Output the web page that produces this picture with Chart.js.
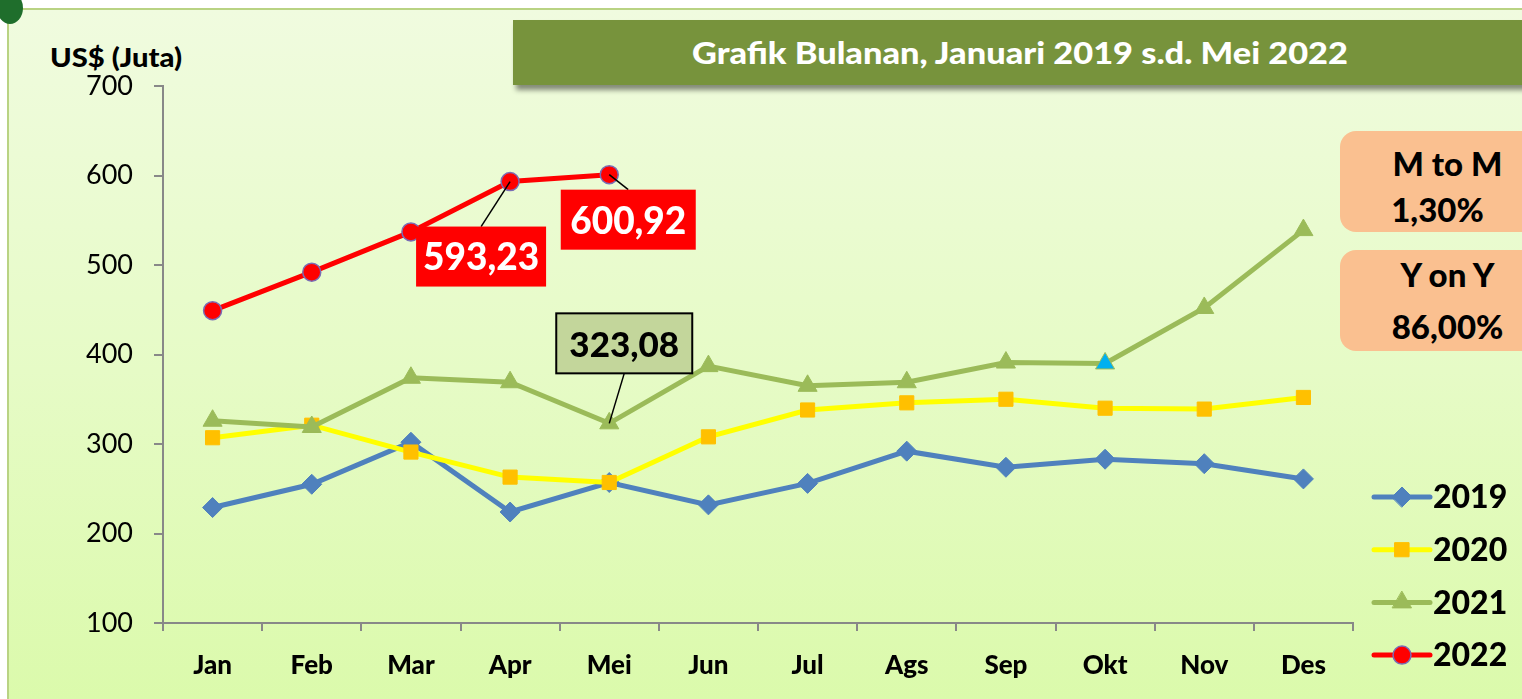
<!DOCTYPE html>
<html><head><meta charset="utf-8">
<script src="https://cdn.jsdelivr.net/npm/chart.js@4.4.0/dist/chart.umd.min.js"></script>
<style>
html,body{margin:0;padding:0;width:1522px;height:699px;overflow:hidden;background:#fff;font-family:Lato,"Open Sans",sans-serif}
#frame{position:absolute;left:7px;top:8px;width:1540px;height:720px;border:2px solid #b9d383;background:linear-gradient(to bottom,#f0fbdf 0%,#e6fbc6 50%,#dafaa9 100%);}
#corner{position:absolute;left:-12px;top:-18px;width:26px;height:32px;background:#1f6e2c;border-radius:50%;}
#banner{position:absolute;left:513px;top:20px;width:1040px;height:65px;background:#77933c;box-shadow:3px 5px 5px rgba(0,0,0,.45);}
#title{position:absolute;top:34px;left:0;white-space:nowrap;color:#fff;font-weight:900;font-size:30px;line-height:36px;transform-origin:0 0;}
#ylab{position:absolute;left:50px;top:40px;font-weight:900;font-size:27px;color:#000;white-space:nowrap;transform-origin:0 0;}
.box{position:absolute;left:1340px;width:215px;height:101px;background:#fac090;border-radius:16px;text-align:center;font-weight:900;font-size:33px;color:#000;}
.box div{position:absolute;left:0;width:100%;white-space:nowrap;}
#wrap{position:absolute;left:0;top:0;width:1522px;height:699px;}
</style></head>
<body>
<div id="frame"><div id="corner"></div></div>
<div id="banner"></div>
<div id="title">Grafik Bulanan, Januari 2019 s.d. Mei 2022</div>
<div id="ylab">US$ (Juta)</div>
<div class="box" style="top:131px"><div style="top:12px">M to M</div><div id="mtm" style="top:58px;left:-10px"></div></div>
<div class="box" style="top:250px"><div style="top:4px">Y on Y</div><div id="yoy" style="top:56px"></div></div>
<div id="wrap"><canvas id="c"></canvas></div>
<script>
const months = ['Jan','Feb','Mar','Apr','Mei','Jun','Jul','Ags','Sep','Okt','Nov','Des'];
const seriesNames = ['2019','2020','2021','2022'];
const v2019 = [229,255,302,224,257,232,256,292,274,283,278,261];
const v2020 = [307,321,291,263,257,308,338,346,350,340,339,352];
const v2021 = [326,319,374,369,323.08,387,365,369,391,390,452,539];
const v2022 = [449,492,537,593.23,600.92];
const yTicks = [100,200,300,400,500,600,700];

const fmt = v => v.toFixed(2).replace('.', ',');
const last = v2022[v2022.length-1], prev = v2022[v2022.length-2], lastYearSame = v2021[v2022.length-1];
document.getElementById('mtm').textContent = fmt((last/prev-1)*100) + '%';
document.getElementById('yoy').textContent = fmt((last/lastYearSame-1)*100) + '%';

function fitText(id, left, w){
  const el = document.getElementById(id);
  const cw = el.getBoundingClientRect().width;
  el.style.left = left + 'px';
  el.style.transform = 'scaleX(' + (w/cw) + ')';
}

const highlightIdx = 9;
const annotations = [
  {ds:3, idx:3, dx:-29, dy:75, w:130, h:60, fill:'#ff0000', color:'#ffffff', border:null, font:'900 37px Lato'},
  {ds:3, idx:4, dx:19, dy:45, w:135, h:60, fill:'#ff0000', color:'#ffffff', border:null, font:'900 37px Lato'},
  {ds:2, idx:4, dx:15, dy:-80, w:136, h:60, fill:'#c3d69b', color:'#000000', border:'#000000', font:'900 35px Lato'}
];

const annoPlugin = {
  id:'anno',
  afterDatasetsDraw(chart){
    const ctx = chart.ctx;
    annotations.forEach(a=>{
      const el = chart.getDatasetMeta(a.ds).data[a.idx];
      const val = chart.data.datasets[a.ds].data[a.idx];
      const px = el.x, py = el.y;
      const cx = px + a.dx, cy = py + a.dy;
      const ey = a.dy > 0 ? cy - a.h/2 : cy + a.h/2;
      ctx.save();
      ctx.strokeStyle = '#000'; ctx.lineWidth = 1.5;
      ctx.beginPath(); ctx.moveTo(px,py); ctx.lineTo(cx, ey); ctx.stroke();
      ctx.fillStyle = a.fill;
      ctx.fillRect(cx-a.w/2, cy-a.h/2, a.w, a.h);
      if (a.border){ ctx.strokeStyle=a.border; ctx.lineWidth=2; ctx.strokeRect(cx-a.w/2, cy-a.h/2, a.w, a.h); }
      ctx.fillStyle = a.color; ctx.font = a.font; ctx.textAlign='center'; ctx.textBaseline='middle';
      ctx.fillText(fmt(val), cx, cy+2);
      ctx.restore();
    });
  }
};

const legendPlugin = {
  id:'customLegend',
  afterDraw(chart){
    const ctx = chart.ctx;
    const x0 = 1374, x1 = 1430, y0 = 497, dy = 52.7;
    chart.data.datasets.forEach((d,i)=>{
      const y = y0 + i*dy;
      ctx.save();
      ctx.strokeStyle = d.borderColor; ctx.lineWidth = 5; ctx.lineCap='round';
      ctx.beginPath(); ctx.moveTo(x0,y); ctx.lineTo(x1,y); ctx.stroke();
      ctx.fillStyle = d.legendFill; ctx.strokeStyle = d.legendStroke; ctx.lineWidth = d.pointBorderWidth;
      Chart.helpers.drawPoint(ctx, {pointStyle:d.pointStyle, radius:d.pointRadius, rotation:0, borderWidth:d.pointBorderWidth}, (x0+x1)/2, y);
      ctx.fillStyle='#000'; ctx.font='900 32px Lato'; ctx.textAlign='left'; ctx.textBaseline='middle';
      ctx.fillText(seriesNames[i], x1+3, y+1);
      ctx.restore();
    });
  }
};

function start(){
fitText('title', 692, 656);
fitText('ylab', 50, 132);
new Chart(document.getElementById('c'), {
  type:'line',
  data:{
    labels: months,
    datasets:[
      {label:seriesNames[0], data:v2019, order:3, borderColor:'#4f81bd', borderWidth:5, tension:0,
       pointStyle:'rectRot', pointRadius:10, pointBackgroundColor:'#4f81bd', pointBorderColor:'#4f81bd', pointBorderWidth:1,
       legendFill:'#4f81bd', legendStroke:'#4f81bd'},
      {label:seriesNames[1], data:v2020, order:2, borderColor:'#ffff00', borderWidth:5, tension:0,
       pointStyle:'rect', pointRadius:10, pointBackgroundColor:'#ffc000', pointBorderColor:'#ffc000', pointBorderWidth:1,
       legendFill:'#ffc000', legendStroke:'#ffc000'},
      {label:seriesNames[2], data:v2021, order:1, borderColor:'#9bbb59', borderWidth:5, tension:0,
       pointStyle:'triangle', pointRadius:11,
       pointBackgroundColor: c => c.dataIndex===highlightIdx ? '#00b0f0' : '#9bbb59',
       pointBorderColor:'#9bbb59', pointBorderWidth:1,
       legendFill:'#9bbb59', legendStroke:'#9bbb59'},
      {label:seriesNames[3], data:v2022, order:0, borderColor:'#ff0000', borderWidth:5, tension:0,
       pointStyle:'circle', pointRadius:9, pointBackgroundColor:'#ff0000', pointBorderColor:'#7a6db5', pointBorderWidth:1.5,
       legendFill:'#ff0000', legendStroke:'#7a6db5'}
    ]
  },
  options:{
    responsive:true, maintainAspectRatio:false, animation:false,
    layout:{padding:{left:0, top:86, right:169, bottom:0}},
    plugins:{legend:{display:false}, tooltip:{enabled:false}},
    scales:{
      x:{offset:true,
         grid:{display:true, offset:true, drawOnChartArea:false, drawTicks:true, tickLength:8, color:'#888', lineWidth:2},
         border:{display:true, color:'#888', width:2},
         ticks:{color:'#000', font:{family:'Lato', weight:'900', size:26}, padding:19, maxRotation:0},
         afterFit(s){ s.height = 76; }},
      y:{min:100, max:700,
         afterBuildTicks(s){ s.ticks = yTicks.map(v=>({value:v})); },
         grid:{display:true, drawOnChartArea:false, drawTicks:true, tickLength:9, color:'#888', lineWidth:2},
         border:{display:true, color:'#888', width:2},
         ticks:{color:'#000', font:{family:'Lato', size:27}, padding:21},
         afterFit(s){ s.width = 163; }}
    }
  },
  plugins:[annoPlugin, legendPlugin]
});
}
if (document.fonts && document.fonts.load) {
  Promise.all([document.fonts.load('900 30px Lato'), document.fonts.load('27px Lato')]).then(start, start);
} else start();
</script>
</body></html>
